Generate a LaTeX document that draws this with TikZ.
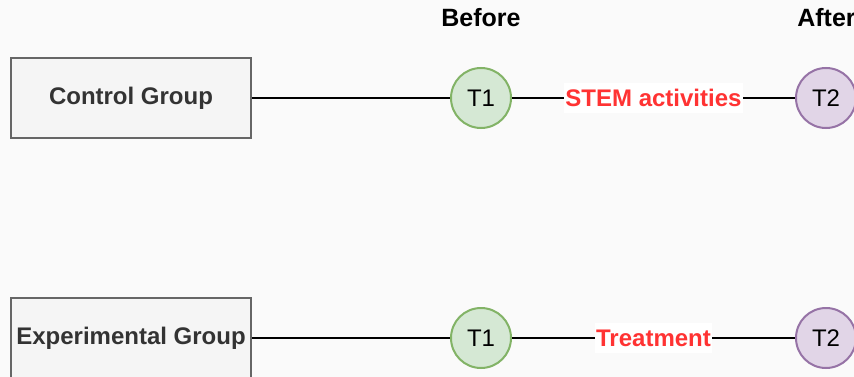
\documentclass[tikz,border=0pt]{standalone}
\usepackage{fontspec}
\setmainfont{Liberation Sans}
\definecolor{bgc}{HTML}{FAFAFA}
\definecolor{boxfill}{HTML}{F5F5F5}
\definecolor{boxdraw}{HTML}{666666}
\definecolor{boxtext}{HTML}{333333}
\definecolor{gfill}{HTML}{D5E8D4}
\definecolor{gdraw}{HTML}{82B366}
\definecolor{pfill}{HTML}{E1D5E7}
\definecolor{pdraw}{HTML}{9673A6}
\definecolor{lblred}{HTML}{FF3333}
\tikzset{
  groupbox/.style={draw=boxdraw, fill=boxfill, line width=2pt, minimum width=240pt, minimum height=80pt, inner sep=0pt, text=boxtext, font=\fontsize{24}{28}\selectfont\bfseries},
  tone/.style={circle, draw=gdraw, fill=gfill, line width=2pt, minimum size=60pt, inner sep=0pt, font=\fontsize{24}{28}\selectfont},
  ttwo/.style={circle, draw=pdraw, fill=pfill, line width=2pt, minimum size=60pt, inner sep=0pt, font=\fontsize{24}{28}\selectfont},
  heading/.style={font=\fontsize{25}{29}\selectfont\bfseries, text=black, inner sep=0pt},
  conn/.style={draw=black, line width=2pt},
  elabel/.style={fill=white, text=lblred, font=\fontsize{24}{28}\selectfont\bfseries, inner xsep=1pt, inner ysep=0pt, minimum height=30pt}
}
\begin{document}
\begin{tikzpicture}[x=1pt,y=-1pt]
\clip (0,0) rectangle (854,377);
\fill[bgc] (0,0) rectangle (854,377);
\node[groupbox] (cg) at (131,98) {Control Group};
\node[groupbox] (eg) at (131,338) {Experimental Group};
\node[tone] (c1) at (481,98) {T1};
\node[ttwo] (c2) at (826,98) {T2};
\node[tone] (e1) at (481,338) {T1};
\node[ttwo] (e2) at (826,338) {T2};
\node[heading] (before) at (481,18) {Before};
\node[heading] (after) at (826.5,18) {After};
\draw[conn] (cg) -- (c1);
\draw[conn] (c1) -- node[elabel] {STEM activities} (c2);
\draw[conn] (eg) -- (e1);
\draw[conn] (e1) -- node[elabel] {Treatment} (e2);
\end{tikzpicture}
\end{document}
